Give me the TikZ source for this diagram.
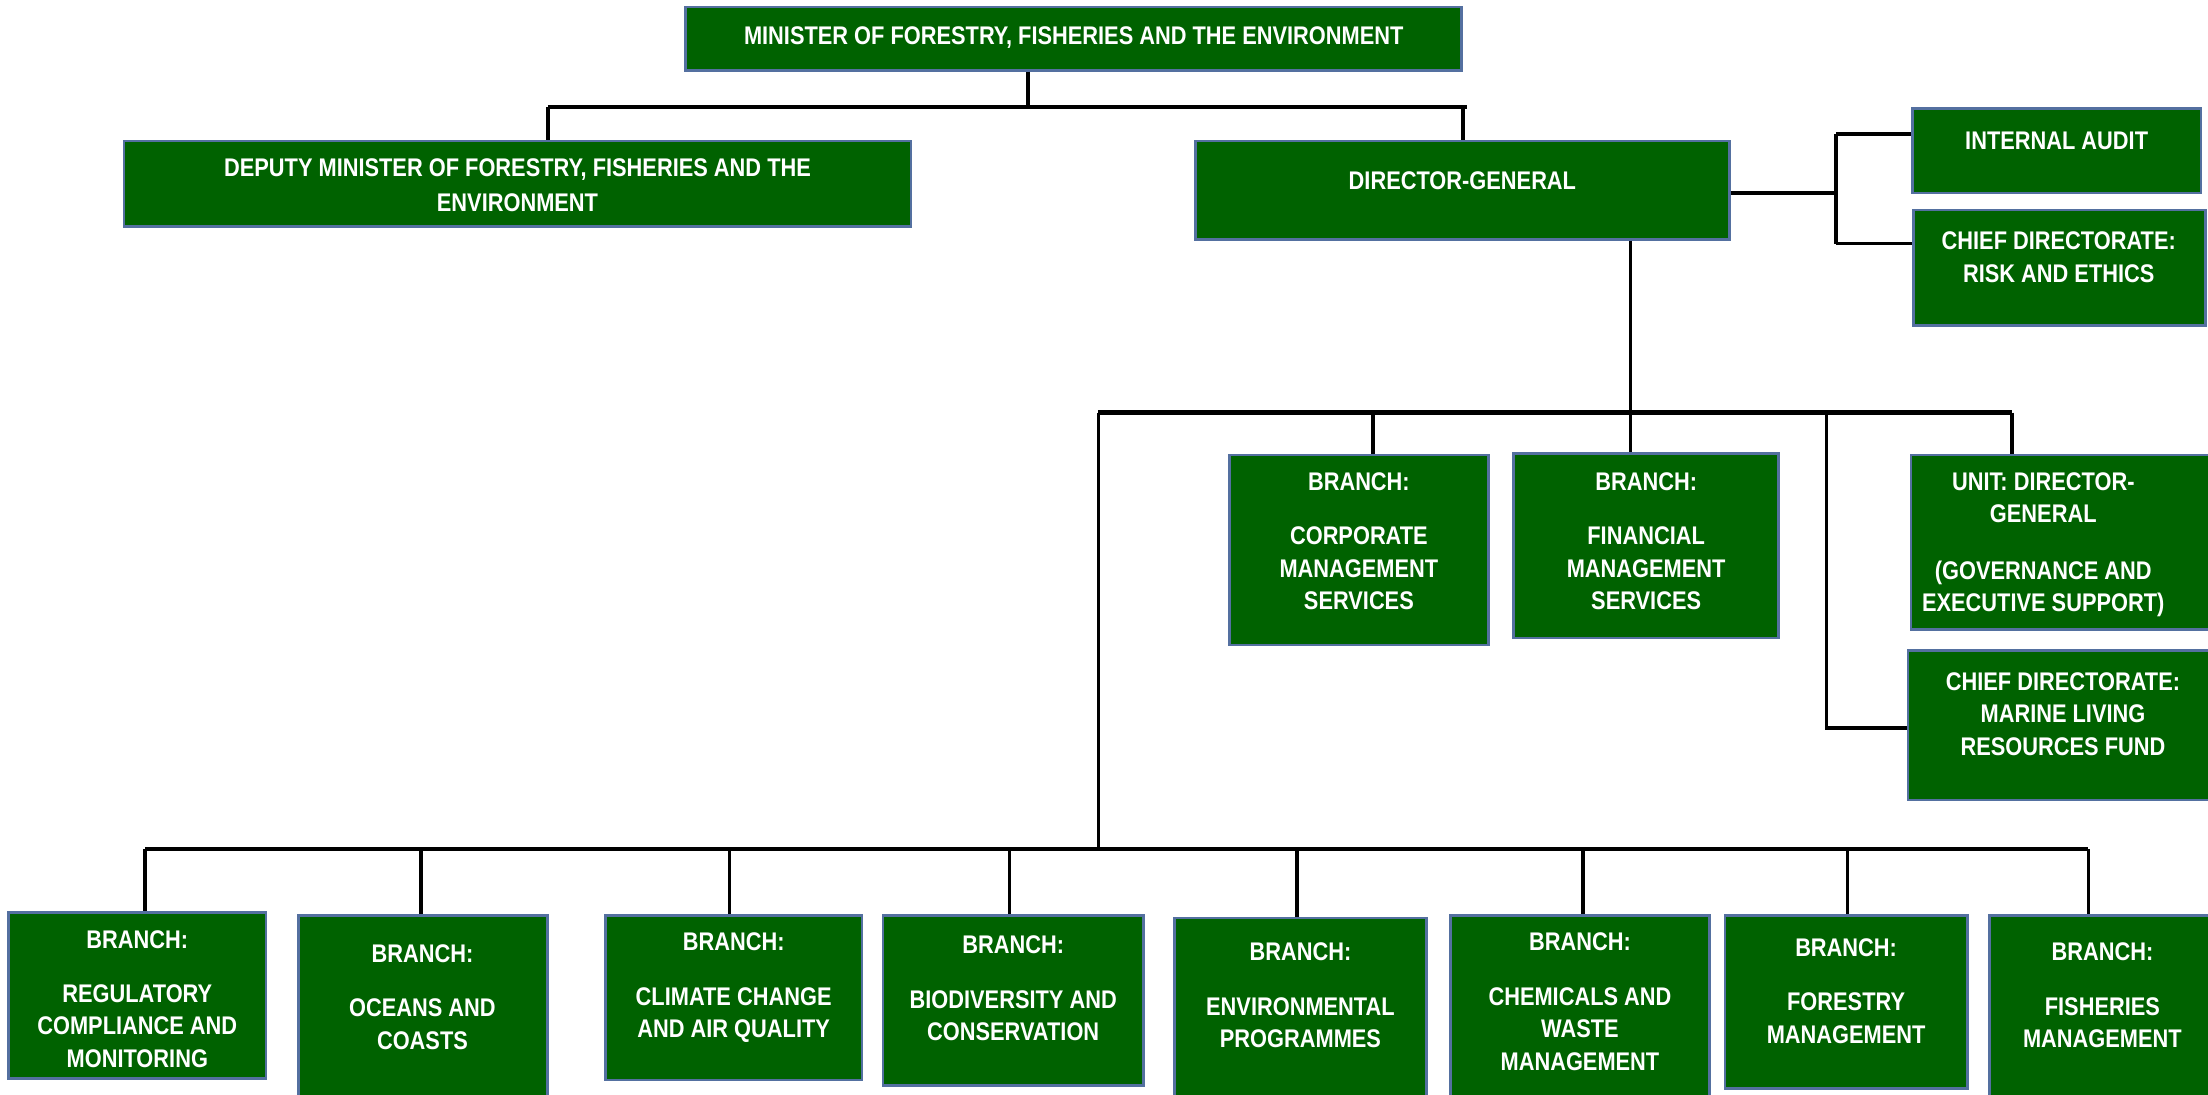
\documentclass[tikz,border=0pt]{standalone}
\usepackage{fontspec}
\newfontfamily\boxfont[FakeStretch=0.855,UprightFont=* Bold]{Liberation Sans}
\usetikzlibrary{fit}
\definecolor{boxgreen}{RGB}{0,98,0}
\definecolor{boxedge}{RGB}{84,112,160}
\tikzset{
  box/.style={draw=boxedge, line width=2.6pt, fill=boxgreen, inner sep=0pt},
  txt/.style={text=white, font=\boxfont\fontsize{25.5}{32.4}\selectfont, align=center, inner sep=0pt, anchor=north},
  conn/.style={draw=black, line width=3.6pt},
  bar/.style={draw=black, line width=4.6pt}
}
\newcommand{\bx}[5]{% name, x1,y1,x2,y2
  \node[box, fit={(#2,#3) (#4,#5)}] (#1) {};}
\begin{document}
\begin{tikzpicture}[x=1.408pt,y=-1.408pt]
\useasboundingbox (0,0) rectangle (1568,777);

% ---- boxes ----
\bx{min}{487}{5}{1038}{50}
\node[txt] (min-t) at (762.5,18.5) {MINISTER OF FORESTRY, FISHERIES AND THE ENVIRONMENT};

\bx{dep}{88}{100}{647}{161}
\node[txt] (dep-t) at (367.5,112.5) {DEPUTY MINISTER OF FORESTRY, FISHERIES AND THE\\[3pt] ENVIRONMENT};

\bx{dg}{849}{100}{1228}{170}
\node[txt] (dg-t) at (1038.5,121.5) {DIRECTOR-GENERAL};

\bx{ia}{1358}{77}{1563}{137}
\node[txt] (ia-t) at (1460.5,93.5) {INTERNAL AUDIT};

\bx{rk}{1359}{149}{1566}{231}
\node[txt] (rk-t) at (1462,164.5) {CHIEF DIRECTORATE:\\ RISK AND ETHICS};

\bx{corp}{873}{323}{1057}{458}
\node[txt] (corp-t) at (965,335.5) {BRANCH:\\[22pt] CORPORATE\\ MANAGEMENT\\ SERVICES};

\bx{fin}{1075}{322}{1263}{453}
\node[txt] (fin-t) at (1169,335.5) {BRANCH:\\[22pt] FINANCIAL\\ MANAGEMENT\\ SERVICES};

\bx{unit}{1357}{323}{1572}{447}
\node[txt] (unit-t) at (1451,335.5) {UNIT: DIRECTOR-\\ GENERAL\\[24pt] (GOVERNANCE AND\\ EXECUTIVE SUPPORT)};

\bx{mar}{1355}{462}{1572}{568}
\node[txt] (mar-t) at (1465,477.5) {CHIEF DIRECTORATE:\\ MARINE LIVING\\ RESOURCES FUND};

\bx{reg}{6}{648}{189}{766}
\node[txt] (reg-t) at (97.5,660.5) {BRANCH:\\[22pt] REGULATORY\\ COMPLIANCE AND\\ MONITORING};

\bx{oce}{212}{650}{389}{782}
\node[txt] (oce-t) at (300,670.5) {BRANCH:\\[22pt] OCEANS AND\\ COASTS};

\bx{cli}{430}{650}{612}{767}
\node[txt] (cli-t) at (521,662.5) {BRANCH:\\[22pt] CLIMATE CHANGE\\ AND AIR QUALITY};

\bx{bio}{627}{650}{812}{771}
\node[txt] (bio-t) at (719.5,664.5) {BRANCH:\\[22pt] BIODIVERSITY AND\\ CONSERVATION};

\bx{env}{834}{652}{1013}{782}
\node[txt] (env-t) at (923.5,669.5) {BRANCH:\\[22pt] ENVIRONMENTAL\\ PROGRAMMES};

\bx{che}{1030}{650}{1214}{782}
\node[txt] (che-t) at (1122,662.5) {BRANCH:\\[22pt] CHEMICALS AND\\ WASTE\\ MANAGEMENT};

\bx{for}{1225}{650}{1397}{773}
\node[txt] (for-t) at (1311,666.5) {BRANCH:\\[22pt] FORESTRY\\ MANAGEMENT};

\bx{fis}{1413}{650}{1572}{782}
\node[txt] (fis-t) at (1493,669.5) {BRANCH:\\[22pt] FISHERIES\\ MANAGEMENT};

% ---- junction points ----
\coordinate (tl) at (389,76);
\coordinate (tm) at (730,76);
\coordinate (tr) at (1042,76);
\coordinate (tdg) at (1039,76);
\coordinate (jr) at (1304,137);
\coordinate (jia) at (1304,95);
\coordinate (jrk) at (1304,173);
\coordinate (mdg) at (1158,293);
\coordinate (ml) at (780,293);
\coordinate (mr) at (1429,293);
\coordinate (mc) at (975,293);
\coordinate (mmar) at (1297,293);
\coordinate (kmar) at (1297,517);
\coordinate (bc) at (780,603);
\coordinate (bl) at (103,603);
\coordinate (br) at (1483,603);
\coordinate (b2) at (299,603);
\coordinate (b3) at (518,603);
\coordinate (b4) at (717,603);
\coordinate (b5) at (921,603);
\coordinate (b6) at (1124,603);
\coordinate (b7) at (1312,603);

% ---- connectors ----
\draw[bar] (tl) -- (tr);
\draw[conn] (min.south -| tm) -- (tm);
\draw[conn] (tl) -- (dep.north -| tl);
\draw[conn] (tdg) -- (dg.north -| tdg);

\draw[conn] (dg.east |- jr) -- (jr);
\draw[conn] (jia) -- (jrk);
\draw[conn] (jia) -- (ia.west |- jia);
\draw[conn] (jrk) -- (rk.west |- jrk);

\draw[conn] (dg.south -| mdg) -- (mdg);
\draw[bar] (ml) -- (mr);
\draw[conn] (mc) -- (corp.north -| mc);
\draw[conn] (mdg) -- (fin.north -| mdg);
\draw[conn] (mr) -- (unit.north -| mr);
\draw[conn] (mmar) -- (kmar) -- (mar.west |- kmar);

\draw[conn] (ml) -- (bc);
\draw[bar] (bl) -- (br);
\draw[conn] (bl) -- (reg.north -| bl);
\draw[conn] (b2) -- (oce.north -| b2);
\draw[conn] (b3) -- (cli.north -| b3);
\draw[conn] (b4) -- (bio.north -| b4);
\draw[conn] (b5) -- (env.north -| b5);
\draw[conn] (b6) -- (che.north -| b6);
\draw[conn] (b7) -- (for.north -| b7);
\draw[conn] (br) -- (fis.north -| br);
\end{tikzpicture}
\end{document}
